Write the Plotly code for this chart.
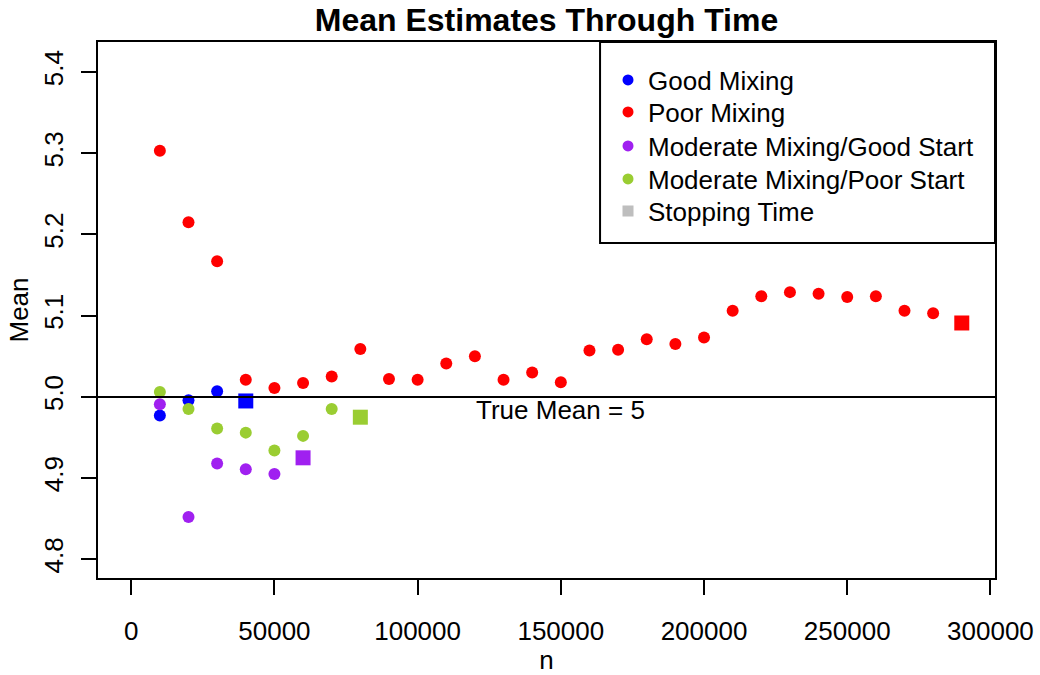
import plotly.graph_objects as go

# ---- data ----
n_good = [10000, 20000, 30000, 40000]
mean_good = [4.977, 4.996, 5.007, 4.995]

n_poor = [10000, 20000, 30000, 40000, 50000, 60000, 70000, 80000, 90000, 100000,
          110000, 120000, 130000, 140000, 150000, 160000, 170000, 180000, 190000, 200000,
          210000, 220000, 230000, 240000, 250000, 260000, 270000, 280000, 290000]
mean_poor = [5.303, 5.215, 5.167, 5.021, 5.011, 5.017, 5.025, 5.059, 5.022, 5.021,
             5.041, 5.050, 5.021, 5.030, 5.018, 5.057, 5.058, 5.071, 5.065, 5.073,
             5.106, 5.124, 5.129, 5.127, 5.123, 5.124, 5.106, 5.103, 5.091]

n_mod_good = [10000, 20000, 30000, 40000, 50000, 60000]
mean_mod_good = [4.991, 4.852, 4.918, 4.911, 4.905, 4.925]

n_mod_poor = [10000, 20000, 30000, 40000, 50000, 60000, 70000, 80000]
mean_mod_poor = [5.006, 4.985, 4.961, 4.956, 4.934, 4.952, 4.985, 4.975]

series_names = ["Good Mixing", "Poor Mixing", "Moderate Mixing/Good Start",
                "Moderate Mixing/Poor Start"]
series_colors = ["#0000FF", "#FF0000", "#A020F0", "#9ACD32"]
stop_label = "Stopping Time"
stop_color = "#BEBEBE"

true_mean = 5
true_mean_text = "True Mean = 5"
true_mean_text_pos = (150000, 4.984)

x_ticks = [0, 50000, 100000, 150000, 200000, 250000, 300000]
x_ticklabels = ["0", "50000", "100000", "150000", "200000", "250000", "300000"]
y_ticks = [4.8, 4.9, 5.0, 5.1, 5.2, 5.3, 5.4]
y_ticklabels = ["4.8", "4.9", "5.0", "5.1", "5.2", "5.3", "5.4"]

FONT = "Liberation Sans, Arial, Helvetica, sans-serif"
FS = 26

fig = go.Figure()

all_series = [(n_good, mean_good), (n_poor, mean_poor),
              (n_mod_good, mean_mod_good), (n_mod_poor, mean_mod_poor)]

for (xs, ys), name, col in zip(all_series, series_names, series_colors):
    k = len(xs)
    fig.add_trace(go.Scatter(
        x=xs, y=ys, mode="markers", name=name, showlegend=False,
        marker=dict(color=col, opacity=1,
                    symbol=["circle"] * (k - 1) + ["square"],
                    size=[12] * (k - 1) + [15],
                    line=dict(width=0)),
    ))

# legend-only entries, one small legend per row so rows match the reference spacing
legend_names = series_names + [stop_label]
legend_colors = series_colors + [stop_color]
legend_row_px = [80, 112, 146, 179, 211]   # row centres in pixels from the top of the page
PLOT_TOP, PLOT_BOTTOM = 42, 578
legend_layouts = {}
for i, (name, col) in enumerate(zip(legend_names, legend_colors)):
    key = "legend" if i == 0 else "legend%d" % (i + 1)
    fig.add_trace(go.Scatter(
        x=[None], y=[None], mode="markers", name=name, legend=key,
        marker=dict(color=col, size=11, opacity=1,
                    symbol="square" if name == stop_label else "circle",
                    line=dict(width=0)),
    ))
    legend_layouts[key] = dict(
        x=(608 - 98) / 897, xanchor="left",
        y=(PLOT_BOTTOM - legend_row_px[i]) / (PLOT_BOTTOM - PLOT_TOP), yanchor="middle",
        bgcolor="rgba(0,0,0,0)", borderwidth=0,
        font=dict(family=FONT, size=FS, color="black"))

fig.add_shape(type="line", xref="paper", x0=0, x1=1, yref="y", y0=true_mean, y1=true_mean,
              line=dict(color="black", width=2))

fig.add_annotation(x=true_mean_text_pos[0], y=true_mean_text_pos[1], text=true_mean_text,
                   showarrow=False, xanchor="center", yanchor="middle",
                   font=dict(family=FONT, size=FS, color="black"))

# legend box
fig.add_shape(type="rect", xref="paper", yref="paper", x0=0.5597, x1=1, y0=0.625, y1=1,
              line=dict(color="black", width=2), fillcolor="rgba(0,0,0,0)")

fig.update_layout(
    width=1040, height=675,
    margin=dict(l=98, r=45, t=42, b=97, autoexpand=False),
    paper_bgcolor="white", plot_bgcolor="white",
    font=dict(family=FONT, size=FS, color="black"),
    title=dict(text="<b>Mean Estimates Through Time</b>", x=0.5, xref="paper", xanchor="center",
               y=1 - 20 / 675, yref="container", yanchor="middle",
               font=dict(family=FONT, size=32, color="black")),
    xaxis=dict(range=[-11600, 301600], tickmode="array", tickvals=x_ticks, ticktext=x_ticklabels,
               showgrid=False, zeroline=False, showline=True, mirror=True, linecolor="black",
               linewidth=2, ticks="outside", ticklen=15, tickwidth=2, tickcolor="black",
               ticklabelstandoff=14, tickfont=dict(family=FONT, size=FS), automargin=False,
               title=dict(text="n", font=dict(family=FONT, size=FS), standoff=8)),
    yaxis=dict(range=[4.777, 5.437], tickmode="array", tickvals=y_ticks, ticktext=y_ticklabels,
               showgrid=False, zeroline=False, showline=True, mirror=True, linecolor="black",
               linewidth=2, ticks="outside", ticklen=15, tickwidth=2, tickcolor="black",
               tickangle=-90, ticklabelstandoff=8, tickfont=dict(family=FONT, size=FS),
               automargin=False,
               title=dict(text="Mean", font=dict(family=FONT, size=FS), standoff=2)),
    **legend_layouts,
)

fig.write_html("out.html", config={"displayModeBar": False},
               post_script="document.body.style.margin='0px';")
